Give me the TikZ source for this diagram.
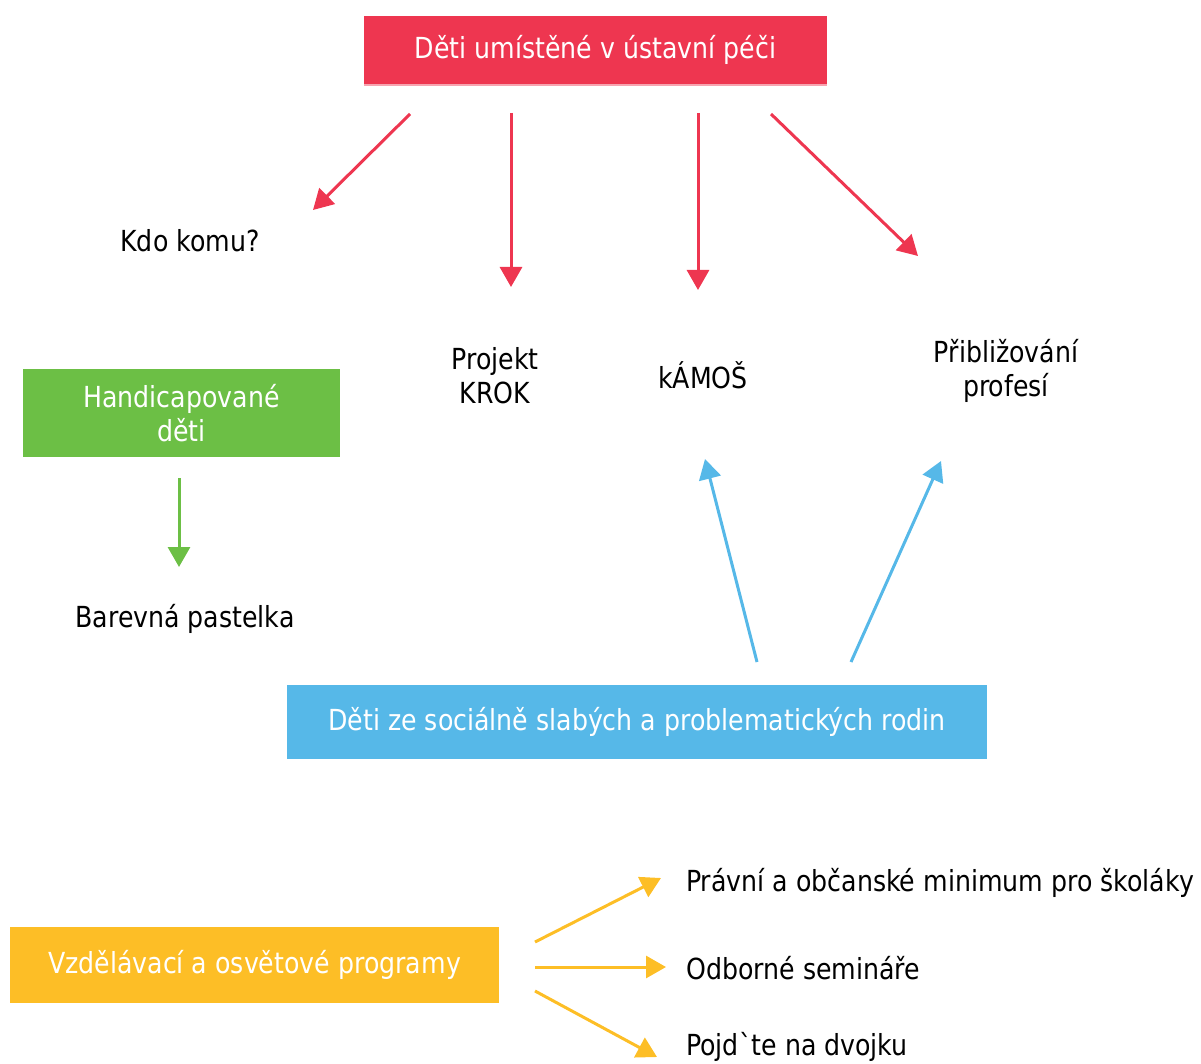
\documentclass[tikz,border=0pt]{standalone}
\usepackage{fontspec}
\setmainfont{DejaVu Sans}[FakeStretch=0.87]
\newfontfamily\nomapfont{DejaVu Sans}[FakeStretch=0.87, Ligatures=ResetAll]
\usetikzlibrary{arrows.meta}
\definecolor{cred}{HTML}{EE3650}
\definecolor{cgreen}{HTML}{6CBF45}
\definecolor{cblue}{HTML}{56B8E8}
\definecolor{cyellow}{HTML}{FDBE26}
\tikzset{
  box/.style={draw=none, inner sep=0pt, text=white, align=center, font=\fontsize{29}{34}\selectfont},
  lbl/.style={inner sep=0pt, align=center, font=\fontsize{29}{34}\selectfont, text=black},
  arr/.style={line width=3pt, -{Triangle[length=20pt,width=22pt]}},
}
\begin{document}
\begin{tikzpicture}[x=1pt,y=-1pt]
\useasboundingbox (0,0) rectangle (1201,1064);
% boxes
\node[box, fill=cred, minimum width=463pt, minimum height=68pt] (red) at (595.5,50) {Děti umístěné v ústavní péči};
\fill[cred!45] (red.south west) rectangle ([yshift=-2pt]red.south east);
\node[box, fill=cgreen, minimum width=317pt, minimum height=88pt] (green) at (181.5,413) {Handicapované\\děti};
\node[box, fill=cblue, minimum width=700pt, minimum height=74pt] (blue) at (637,722) {Děti ze sociálně slabých a problematických rodin};
\node[box, fill=cyellow, minimum width=489pt, minimum height=76pt] (yellow) at (254.5,965) {Vzdělávací a osvětové programy};
% labels
\node[lbl] (kdo) at (190,241) {Kdo komu?};
\node[lbl] (krok) at (495,375.5) {Projekt\\KROK};
\node[lbl] (kamos) at (703,375) {kÁMOŠ};
\node[lbl] (prib) at (1006,371) {Přibližování\\profesí};
\node[lbl] (pastelka) at (185,619) {Barevná pastelka};
\node[lbl, anchor=west] (pravni) at (686,883) {Právní a občanské minimum pro školáky};
\node[lbl, anchor=west] (odborne) at (686,968) {Odborné semináře};
\node[lbl, anchor=west] (pojdte) at (686,1047) {Pojd{\nomapfont`}te na dvojku};
% arrow endpoints
\coordinate (r1s) at (410,114); \coordinate (r1e) at (313,210);
\coordinate (r2s) at (511,113); \coordinate (r2e) at (511,287);
\coordinate (r3s) at (698,113); \coordinate (r3e) at (698,290);
\coordinate (r4s) at (771,114); \coordinate (r4e) at (918,256);
\coordinate (g1s) at (179,478); \coordinate (g1e) at (179,567);
\coordinate (b1s) at (757,662); \coordinate (b1e) at (705,459);
\coordinate (b2s) at (851,662); \coordinate (b2e) at (941,461);
\coordinate (y1s) at (535,942); \coordinate (y1e) at (661,878);
\coordinate (y2s) at (535,967); \coordinate (y2e) at (666,967);
\coordinate (y3s) at (535,991); \coordinate (y3e) at (657,1057);
\draw[arr, cred] (r1s) -- (r1e);
\draw[arr, cred] (r2s) -- (r2e);
\draw[arr, cred] (r3s) -- (r3e);
\draw[arr, cred] (r4s) -- (r4e);
\draw[arr, cgreen] (g1s) -- (g1e);
\draw[arr, cblue] (b1s) -- (b1e);
\draw[arr, cblue] (b2s) -- (b2e);
\draw[arr, cyellow] (y1s) -- (y1e);
\draw[arr, cyellow] (y2s) -- (y2e);
\draw[arr, cyellow] (y3s) -- (y3e);
\end{tikzpicture}
\end{document}
